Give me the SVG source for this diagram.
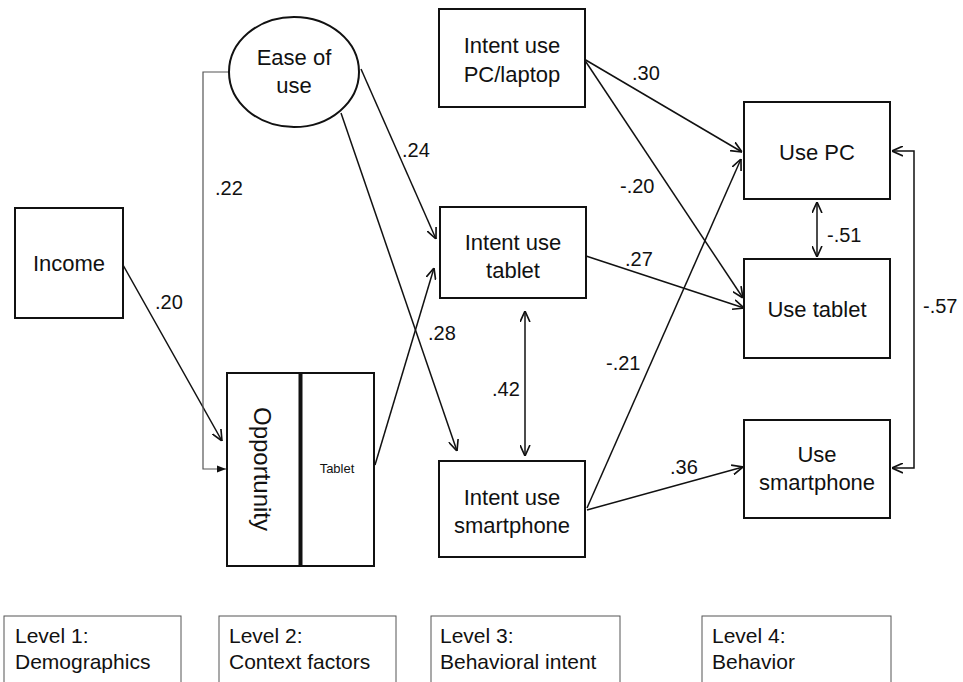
<svg xmlns="http://www.w3.org/2000/svg" width="963" height="682" viewBox="0 0 963 682">
<style>
text{font-family:"Liberation Sans",Arial,sans-serif;fill:#111}
.box{fill:#fff;stroke:#111;stroke-width:2}
.lg{fill:#fff;stroke:#555;stroke-width:1}
.t{font-size:22px;text-anchor:middle}
.n{font-size:20px}
.lt{font-size:21px}
.c{fill:none;stroke:#111;stroke-width:1.5}
</style>
<defs>
<marker id="a" viewBox="0 0 10 10" refX="10" refY="5" markerWidth="11" markerHeight="11" markerUnits="userSpaceOnUse" orient="auto-start-reverse">
<path d="M0,0.5 L10,5 L0,9.5" fill="none" stroke="#111" stroke-width="1.5"/>
</marker>
<marker id="f" viewBox="0 0 10 10" refX="10" refY="5" markerWidth="9" markerHeight="9" markerUnits="userSpaceOnUse" orient="auto">
<path d="M0,1 L10,5 L0,9 Z" fill="#111"/>
</marker>
</defs>

<g id="connectors">
<line class="c" x1="123" y1="265" x2="222" y2="441" marker-end="url(#a)"/>
<polyline fill="none" stroke="#555" stroke-width="1.2" points="229,72 203,72 203,469 226,469" marker-end="url(#f)"/>
<line class="c" x1="361" y1="69" x2="436" y2="239" marker-end="url(#a)"/>
<line class="c" x1="341" y1="113" x2="457" y2="451" marker-end="url(#a)"/>
<line class="c" x1="375" y1="465" x2="434" y2="268" marker-end="url(#a)"/>
<line class="c" x1="584" y1="59" x2="742" y2="152" marker-end="url(#a)"/>
<line class="c" x1="584" y1="59" x2="743" y2="298" marker-end="url(#a)"/>
<line class="c" x1="586" y1="256" x2="744" y2="308" marker-end="url(#a)"/>
<line class="c" x1="587" y1="508" x2="741" y2="159" marker-end="url(#a)"/>
<line class="c" x1="587" y1="510" x2="743" y2="467" marker-end="url(#a)"/>
<line class="c" x1="525" y1="311" x2="525" y2="456" marker-start="url(#a)" marker-end="url(#a)"/>
<line class="c" x1="817" y1="202" x2="817" y2="257" marker-start="url(#a)" marker-end="url(#a)"/>
<polyline class="c" points="892,151 914,151 914,468 892,468" marker-start="url(#a)" marker-end="url(#a)"/>
<text class="n" x="155" y="309">.20</text>
<text class="n" x="215" y="195">.22</text>
<text class="n" x="402" y="157">.24</text>
<text class="n" x="428" y="340">.28</text>
<text class="n" x="632" y="80">.30</text>
<text class="n" x="620" y="193">-.20</text>
<text class="n" x="625" y="266">.27</text>
<text class="n" x="606" y="370">-.21</text>
<text class="n" x="492" y="396">.42</text>
<text class="n" x="670" y="474">.36</text>
<text class="n" x="827" y="242">-.51</text>
<text class="n" x="923" y="313">-.57</text>
</g>

<g id="income">
<rect class="box" x="15" y="208" width="108" height="110"/>
<text class="t" x="69" y="271">Income</text>
</g>

<g id="ease">
<ellipse class="box" cx="294" cy="72" rx="65" ry="55"/>
<text class="t" x="294" y="65">Ease of</text>
<text class="t" x="294" y="93">use</text>
</g>

<g id="opportunity">
<rect class="box" x="227" y="373" width="73" height="193"/>
<rect class="box" x="301" y="373" width="73" height="193"/>
<line x1="300.5" y1="373" x2="300.5" y2="566" stroke="#111" stroke-width="4"/>
<text class="t" style="font-size:24px" transform="translate(254,469) rotate(90)">Opportunity</text>
<text x="337" y="473" font-size="13" text-anchor="middle" fill="#333">Tablet</text>
</g>

<g id="intent-pc">
<rect class="box" x="439" y="9" width="146" height="98"/>
<text class="t" x="512" y="53">Intent use</text>
<text class="t" x="512" y="82">PC/laptop</text>
</g>

<g id="intent-tablet">
<rect class="box" x="440" y="207" width="146" height="91"/>
<text class="t" x="513" y="250">Intent use</text>
<text class="t" x="513" y="278">tablet</text>
</g>

<g id="intent-smartphone">
<rect class="box" x="439" y="461" width="146" height="96"/>
<text class="t" x="512" y="505">Intent use</text>
<text class="t" x="512" y="533">smartphone</text>
</g>

<g id="use-pc">
<rect class="box" x="744" y="102" width="146" height="97"/>
<text class="t" x="817" y="160">Use PC</text>
</g>

<g id="use-tablet">
<rect class="box" x="744" y="259" width="146" height="99"/>
<text class="t" x="817" y="317">Use tablet</text>
</g>

<g id="use-smartphone">
<rect class="box" x="744" y="420" width="146" height="98"/>
<text class="t" x="817" y="462">Use</text>
<text class="t" x="817" y="490">smartphone</text>
</g>

<g id="level1">
<rect class="lg" x="4" y="616" width="177" height="80"/>
<text class="lt" x="15" y="643">Level 1:</text>
<text class="lt" x="15" y="669">Demographics</text>
</g>
<g id="level2">
<rect class="lg" x="219" y="616" width="177" height="80"/>
<text class="lt" x="229" y="643">Level 2:</text>
<text class="lt" x="229" y="669">Context factors</text>
</g>
<g id="level3">
<rect class="lg" x="431" y="616" width="189" height="80"/>
<text class="lt" x="440" y="643">Level 3:</text>
<text class="lt" x="440" y="669">Behavioral intent</text>
</g>
<g id="level4">
<rect class="lg" x="702" y="616" width="189" height="80"/>
<text class="lt" x="712" y="643">Level 4:</text>
<text class="lt" x="712" y="669">Behavior</text>
</g>
</svg>
